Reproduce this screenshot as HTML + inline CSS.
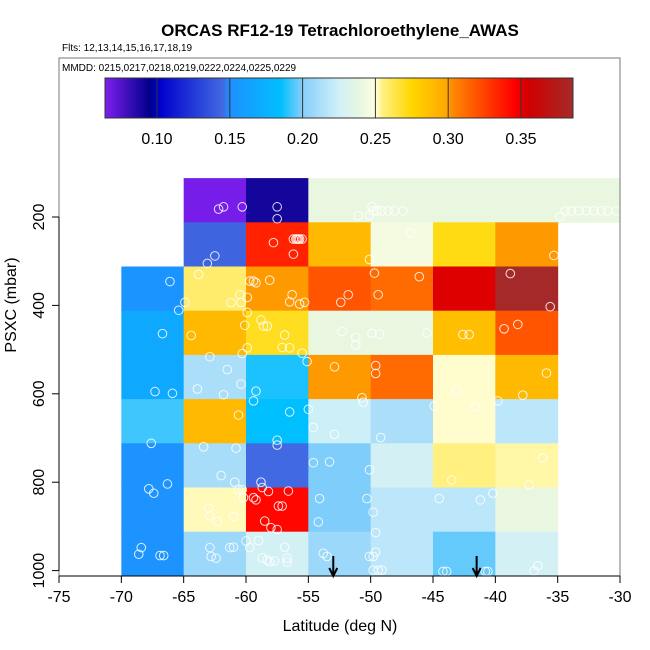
<!DOCTYPE html>
<html><head><meta charset="utf-8"><style>
html,body{margin:0;padding:0;background:#fff}
svg{display:block;font-family:"Liberation Sans",Arial,sans-serif}
</style></head><body>
<svg id="chart" width="650" height="650" viewBox="0 0 650 650">
<text x="340" y="36" text-anchor="middle" font-size="17" font-weight="bold">ORCAS RF12-19 Tetrachloroethylene_AWAS</text>
<text x="62" y="51" font-size="10">Flts: 12,13,14,15,16,17,18,19</text>
<text x="62" y="71" font-size="10">MMDD: 0215,0217,0218,0219,0222,0224,0225,0229</text>
<g id="cells"></g>
<g id="pts"></g>
<g id="cbar"></g>
<rect x="59" y="58" width="561" height="518" fill="none" stroke="#777" stroke-width="1"/>
<g id="axes"></g>
<text x="340" y="631" text-anchor="middle" font-size="16">Latitude (deg N)</text>
<text transform="translate(16,305) rotate(-90)" text-anchor="middle" font-size="16">PSXC (mbar)</text>
</svg>
<script>
const latEdges = [-70,-65,-60,-55,-50,-45,-40,-35,-30];
const pressEdges = [112,212,312,412,512,612,712,812,912,1012];
// rows top->bottom, columns lat bins
const row0 = [null,0.066,0.09,0.24,0.24,0.24,0.24,0.24];
const row1 = [null,0.143,0.335,0.290,0.245,0.272,0.301,null];
const row2 = [0.153,0.258,0.301,0.319,0.312,0.352,0.385,null];
const row3 = [0.168,0.290,0.270,0.24,0.24,0.287,0.319,null];
const row4 = [0.168,0.212,0.188,0.301,0.312,0.251,0.290,null];
const row5 = [0.192,0.290,0.185,0.224,0.212,0.251,0.218,null];
const row6 = [0.152,0.211,0.145,0.199,0.227,0.255,0.253,null];
const row7 = [0.152,0.252,0.343,0.199,0.218,0.218,0.24,null];
const row8 = [0.152,0.207,0.227,0.207,0.218,0.196,0.227,null];
const rows = [row0,row1,row2,row3,row4,row5,row6,row7,row8];
const xTicks = [-75,-70,-65,-60,-55,-50,-45,-40,-35,-30];
const yTicks = [200,400,600,800,1000];
const cbTicks = [0.10,0.15,0.20,0.25,0.30,0.35];
const cbTickLabels = ["0.10","0.15","0.20","0.25","0.30","0.35"];
const ptLat = [-62.2,-61.8,-60.3,-57.5,-57.5,-57.8,-56.2,-56.0,-55.9,-55.8,-55.7,-55.5,-56.2,-62.5,-63.1,-63.8,-66.1,-59.7,-59.4,-59.2,-58.1,-56.3,-56.5,-55.7,-55.3,-60.5,-61.2,-60.4,-59.9,-64.9,-65.4,-59.9,-58.8,-58.6,-58.3,-60.1,-56.9,-64.4,-66.7,-57.1,-56.5,-59.9,-60.3,-55.5,-55.1,-62.9,-61.5,-60.4,-63.9,-61.8,-59.2,-59.4,-67.3,-65.9,-60.6,-56.5,-55.0,-67.6,-63.4,-60.8,-57.5,-57.5,-62.0,-60.9,-60.6,-60.3,-60.2,-58.8,-58.7,-58.2,-56.6,-59.4,-59.2,-57.4,-57.1,-58.5,-58.0,-57.5,-63.0,-62.9,-62.3,-61.0,-67.8,-67.4,-66.3,-68.4,-68.6,-66.9,-66.6,-62.9,-62.8,-62.4,-61.3,-61.0,-60.0,-59.7,-59.0,-58.7,-58.3,-58.1,-57.7,-56.9,-56.7,-56.7,-54.6,-53.3,-54.6,-52.9,-54.1,-54.2,-53.8,-53.5,-52.9,-50.7,-50.6,-52.4,-51.8,-52.3,-51.2,-51.2,-51.0,
-46.8,-50.1,-35.3,-49.7,-46.1,-49.4,-38.8,-35.6,-49.9,-49.3,-45.5,-42.6,-42.1,-39.3,-38.2,-49.6,-49.6,-35.9,-37.8,-39.8,-43.1,-41.6,-44.9,-49.2,-50.1,-36.2,-37.3,-43.5,-50.3,-49.8,-44.5,-41.2,-40.2,-49.6,-49.6,-50.1,-49.8,-49.8,-49.4,-49.1,-44.2,-43.9,-40.8,-40.6,-36.9,-36.6,-34.8,-34.4,-33.9,-33.3,-32.7,-32.1,-31.5,-31.0,-30.3,-49.9,-49.8,-49.5,-49.1,-48.6,-48.1,-47.4,-50.1];
const ptPress = [182,177,177,177,204,258,250,250,250,250,250,250,284,288,305,330,346,345,345,349,343,376,392,397,393,376,394,393,382,393,411,416,433,447,447,445,467,468,464,495,496,496,509,508,527,516,545,578,589,602,594,616,595,599,648,641,635,712,720,723,705,716,785,800,817,817,835,800,812,821,820,835,840,854,854,888,903,907,859,876,889,878,815,825,804,948,963,966,966,948,968,972,948,947,933,948,932,971,976,980,978,947,972,981,756,754,676,692,837,890,961,968,539,609,619,393,376,459,472,490,197,
236,296,287,327,335,376,328,403,463,465,462,466,466,453,443,536,554,553,603,616,593,630,628,699,772,745,806,795,837,868,837,840,825,914,958,968,968,999,999,999,1002,1002,1002,1002,1001,989,199,186,186,186,186,186,186,186,186,177,186,186,186,186,186,186,196];
const arrowLat = [-53.0,-41.5];

const stops = [[0.064,'#7f1fef'],[0.095,'#00008b'],[0.102,'#0000cd'],[0.145,'#4169e1'],[0.150,'#1e90ff'],[0.185,'#00bfff'],[0.20,'#87cefa'],[0.225,'#d0f0f8'],[0.24,'#eaf7e0'],[0.25,'#ffffe0'],[0.255,'#fff080'],[0.275,'#ffd700'],[0.30,'#ffa500'],[0.302,'#ff8c00'],[0.345,'#ff0000'],[0.355,'#d00000'],[0.386,'#a52a2a']];
function hex(c){return [1,3,5].map(i=>parseInt(c.substr(i,2),16));}
function cmap(v){
  if(v<=stops[0][0]) return stops[0][1];
  for(let i=1;i<stops.length;i++){
    if(v<=stops[i][0]){
      const a=hex(stops[i-1][1]),b=hex(stops[i][1]);
      const t=(v-stops[i-1][0])/(stops[i][0]-stops[i-1][0]);
      return 'rgb('+a.map((x,k)=>Math.round(x+(b[k]-x)*t)).join(',')+')';
    }
  }
  return stops[stops.length-1][1];
}
const X = lat => 59 + (lat+75)*12.467;
const Y = p => 217 + (p-200)*0.442;
const CB = v => 157 + (v-0.10)*1456;
const NS='http://www.w3.org/2000/svg';
function mk(tag,attrs,parent){const e=document.createElementNS(NS,tag);for(const k in attrs)e.setAttribute(k,attrs[k]);parent.appendChild(e);return e;}

const cells=document.getElementById('cells');
rows.forEach((r,ri)=>{
  r.forEach((v,ci)=>{
    if(v===null) return;
    const x0=X(latEdges[ci]),x1=X(latEdges[ci+1]);
    const y0=Y(pressEdges[ri]),y1=Y(pressEdges[ri+1]);
    const e=mk('rect',{x:x0,y:y0,width:x1-x0+0.5,height:y1-y0+0.5,fill:cmap(v)},cells);
    
    
  });
});
const pts=document.getElementById('pts');
ptLat.forEach((la,i)=>{
  const e=mk('circle',{cx:X(la),cy:Y(ptPress[i]),r:4.3,fill:'none',stroke:'#fff','stroke-width':1,opacity:0.85},pts);
  
  
});
arrowLat.forEach(la=>{
  const x=X(la);
  const g=mk('g',{},pts);
  
  
  mk('line',{x1:x,y1:556,x2:x,y2:575,stroke:'#000','stroke-width':2},g);
  mk('path',{d:`M${x-4},${568} L${x},${576} L${x+4},${568}`,fill:'none',stroke:'#000','stroke-width':2},g);
});
const cb=document.getElementById('cbar');
const cbMin=0.0644,cbMax=0.3856;
for(let px=105;px<573;px++){
  const v=cbMin+(px-105+0.5)/468*(cbMax-cbMin);
  mk('rect',{x:px,y:78,width:1.2,height:40,fill:cmap(v)},cb);
}
mk('rect',{x:105,y:78,width:468,height:40,fill:'none',stroke:'#333','stroke-width':1},cb);
cbTicks.forEach((t,i)=>{
  const x=CB(t);
  mk('line',{x1:x,y1:78,x2:x,y2:118,stroke:'#333','stroke-width':1},cb);
  const e=mk('text',{x:x,y:144,'text-anchor':'middle','font-size':16},cb);
  e.textContent=cbTickLabels[i];
  
  
});
const ax=document.getElementById('axes');
mk('line',{x1:59,y1:576,x2:620,y2:576,stroke:'#000','stroke-width':1},ax);
xTicks.forEach(t=>{
  const x=X(t);
  mk('line',{x1:x,y1:576,x2:x,y2:583,stroke:'#000'},ax);
  const e=mk('text',{x:x,y:602,'text-anchor':'middle','font-size':16},ax);
  e.textContent=String(t);
  
  
});
mk('line',{x1:59,y1:Y(200),x2:59,y2:Y(1000),stroke:'#000'},ax);
yTicks.forEach(t=>{
  const y=Y(t);
  mk('line',{x1:52,y1:y,x2:59,y2:y,stroke:'#000'},ax);
  const e=mk('text',{x:0,y:0,'text-anchor':'middle','font-size':16,transform:`translate(44,${y}) rotate(-90)`},ax);
  e.textContent=String(t);
  
  
});
</script>
</body></html>
